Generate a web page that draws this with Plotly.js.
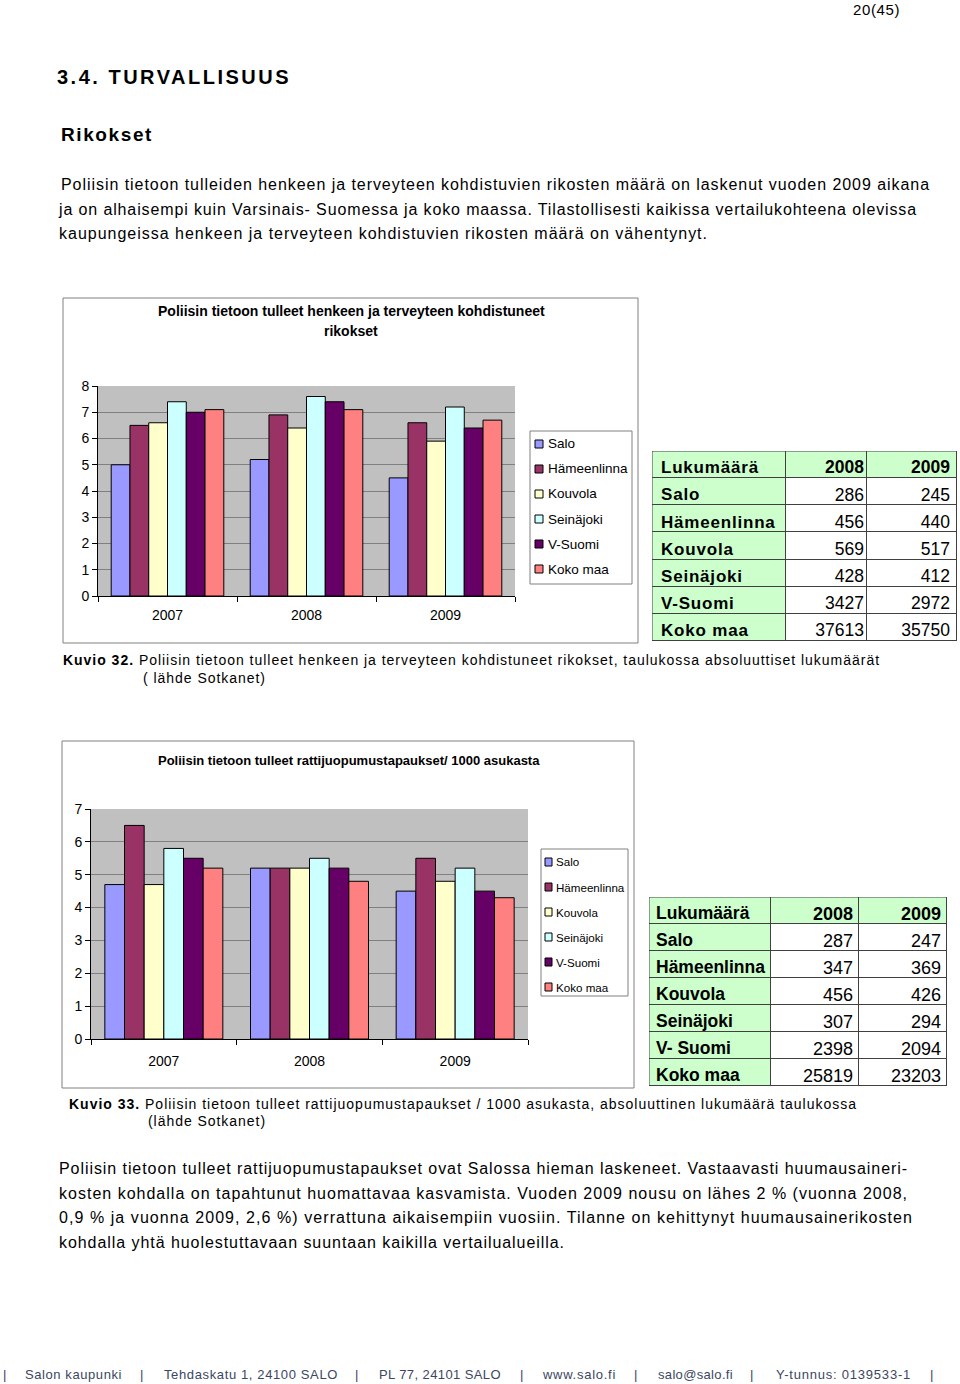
<!DOCTYPE html>
<html>
<head>
<meta charset="utf-8">
<script src="https://cdn.plot.ly/plotly-3.0.1.min.js"></script>
<style>
  body { margin: 0; background: #fff; }
  #page { position: relative; width: 960px; height: 1384px; overflow: hidden; }
  #chart { position: absolute; left: 0; top: 0; width: 960px; height: 1384px; }
  .t { position: absolute; white-space: pre; line-height: 1; transform: translateY(-50%);
       font-family: "Liberation Sans", Arial, sans-serif; color: #000; z-index: 2; }
  .b { font-weight: bold; }
  .foot { color: #3b4662; font-size: 13px; }
  /* ensimmäisen taulukon rivinimet ovat harvennettuja */
  #chart .x3y3 .scatterlayer .trace:first-child text { letter-spacing: 0.8px; }
</style>
</head>
<body>
<div id="page">
  <div id="chart"></div>

  <div class="t" style="left:853px;top:9px;font-size:15px" data-r="900">20(45)</div>
  <div class="t b" style="left:57px;top:77px;font-size:20px" data-r="291">3.4. TURVALLISUUS</div>
  <div class="t b" style="left:61px;top:134px;font-size:19px" data-r="153">Rikokset</div>

  <div class="t" style="left:61px;top:185px;font-size:16px" data-r="930">Poliisin tietoon tulleiden henkeen ja terveyteen kohdistuvien rikosten määrä on laskenut vuoden 2009 aikana</div>
  <div class="t" style="left:59px;top:210px;font-size:16px" data-r="917">ja on alhaisempi kuin Varsinais- Suomessa ja koko maassa. Tilastollisesti kaikissa vertailukohteena olevissa</div>
  <div class="t" style="left:59px;top:234px;font-size:16px" data-r="708">kaupungeissa henkeen ja terveyteen kohdistuvien rikosten määrä on vähentynyt.</div>

  <div class="t" style="left:63px;top:660px;font-size:14px" data-r="880"><b>Kuvio 32.</b> Poliisin tietoon tulleet henkeen ja terveyteen kohdistuneet rikokset, taulukossa absoluuttiset lukumäärät</div>
  <div class="t" style="left:143px;top:678px;font-size:14px" data-r="266">( lähde Sotkanet)</div>

  <div class="t" style="left:69px;top:1104px;font-size:14px" data-r="857"><b>Kuvio 33.</b> Poliisin tietoon tulleet rattijuopumustapaukset / 1000 asukasta, absoluuttinen lukumäärä taulukossa</div>
  <div class="t" style="left:148px;top:1121px;font-size:14px" data-r="266">(lähde Sotkanet)</div>

  <div class="t" style="left:59px;top:1169px;font-size:16px" data-r="908">Poliisin tietoon tulleet rattijuopumustapaukset ovat Salossa hieman laskeneet. Vastaavasti huumausaineri-</div>
  <div class="t" style="left:59px;top:1194px;font-size:16px" data-r="908">kosten kohdalla on tapahtunut huomattavaa kasvamista. Vuoden 2009 nousu on lähes 2 % (vuonna 2008,</div>
  <div class="t" style="left:59px;top:1218px;font-size:16px" data-r="913">0,9 % ja vuonna 2009, 2,6 %) verrattuna aikaisempiin vuosiin. Tilanne on kehittynyt huumausainerikosten</div>
  <div class="t" style="left:59px;top:1243px;font-size:16px" data-r="565">kohdalla yhtä huolestuttavaan suuntaan kaikilla vertailualueilla.</div>

  <div class="t foot" style="left:3px;top:1374px">|</div>
  <div class="t foot" style="left:25px;top:1374px" data-r="122">Salon kaupunki</div>
  <div class="t foot" style="left:140px;top:1374px">|</div>
  <div class="t foot" style="left:164px;top:1374px" data-r="338">Tehdaskatu 1, 24100 SALO</div>
  <div class="t foot" style="left:355px;top:1374px">|</div>
  <div class="t foot" style="left:379px;top:1374px" data-r="501">PL 77, 24101 SALO</div>
  <div class="t foot" style="left:520px;top:1374px">|</div>
  <div class="t foot" style="left:543px;top:1374px" data-r="616">www.salo.fi</div>
  <div class="t foot" style="left:634px;top:1374px">|</div>
  <div class="t foot" style="left:658px;top:1374px" data-r="733">salo@salo.fi</div>
  <div class="t foot" style="left:750px;top:1374px">|</div>
  <div class="t foot" style="left:776px;top:1374px" data-r="911">Y-tunnus: 0139533-1</div>
  <div class="t foot" style="left:930px;top:1374px">|</div>
</div>

<script>
const years = ['2007', '2008', '2009'];
const areas = ['Salo', 'Hämeenlinna', 'Kouvola', 'Seinäjoki', 'V-Suomi', 'Koko maa'];
const areaColors = ['#9999ff', '#993366', '#ffffcc', '#ccffff', '#660066', '#ff8080'];

// Kuvio 32: henkeen ja terveyteen kohdistuneet rikokset
const crimeSalo = [5.0, 5.2, 4.5];
const crimeHameenlinna = [6.5, 6.9, 6.6];
const crimeKouvola = [6.6, 6.4, 5.9];
const crimeSeinajoki = [7.4, 7.6, 7.2];
const crimeVSuomi = [7.0, 7.4, 6.4];
const crimeKokoMaa = [7.1, 7.1, 6.7];

// Kuvio 33: rattijuopumustapaukset / 1000 asukasta
const duiSalo = [4.7, 5.2, 4.5];
const duiHameenlinna = [6.5, 5.2, 5.5];
const duiKouvola = [4.7, 5.2, 4.8];
const duiSeinajoki = [5.8, 5.5, 5.2];
const duiVSuomi = [5.5, 5.2, 4.5];
const duiKokoMaa = [5.2, 4.8, 4.3];

// taulukot
const tableHead = ['Lukumäärä', '2008', '2009'];
const crimeRows = ['Salo', 'Hämeenlinna', 'Kouvola', 'Seinäjoki', 'V-Suomi', 'Koko maa'];
const crimeCount2008 = [286, 456, 569, 428, 3427, 37613];
const crimeCount2009 = [245, 440, 517, 412, 2972, 35750];
const duiRows = ['Salo', 'Hämeenlinna', 'Kouvola', 'Seinäjoki', 'V- Suomi', 'Koko maa'];
const duiCount2008 = [287, 347, 456, 307, 2398, 25819];
const duiCount2009 = [247, 369, 426, 294, 2094, 23203];

const crimeSeries = [crimeSalo, crimeHameenlinna, crimeKouvola, crimeSeinajoki, crimeVSuomi, crimeKokoMaa];
const duiSeries = [duiSalo, duiHameenlinna, duiKouvola, duiSeinajoki, duiVSuomi, duiKokoMaa];

const W = 960, H = 1384;
const px = x => x / W;
const py = y => 1 - y / H;
const FONT = '"Liberation Sans", Arial, sans-serif';
const bold = s => '<b>' + s + '</b>';

var data = [];
var shapes = [];
var annotations = [];

crimeSeries.forEach(function (vals, i) {
    data.push({
        type: 'bar', x: years, y: vals, name: areas[i], xaxis: 'x', yaxis: 'y',
        marker: { color: areaColors[i], line: { color: '#000', width: 1 } },
        showlegend: false, hoverinfo: 'none'
    });
});
duiSeries.forEach(function (vals, i) {
    data.push({
        type: 'bar', x: years, y: vals, name: areas[i], xaxis: 'x2', yaxis: 'y2',
        marker: { color: areaColors[i], line: { color: '#000', width: 1 } },
        showlegend: false, hoverinfo: 'none'
    });
});

// taulukko piirretään omille piilotetuille akseleilleen: heatmap solujen taustoiksi, teksti scatterilla
function addTable(rows, c2008, c2009, xa, ya, colW, rowH, opt) {
    var edgesX = [0, colW[0], colW[0] + colW[1], colW[0] + colW[1] + colW[2]];
    var nRows = rows.length + 1;
    var edgesY = [];
    for (var r = 0; r <= nRows; r++) edgesY.push(r * rowH);
    var textY = edgesY.slice(0, -1).map(function (v) { return v + rowH / 2 + opt.textDrop; });

    var z = [[1, 1, 1]].concat(rows.map(function () { return [1, 0, 0]; }));
    data.push({
        type: 'heatmap', x: edgesX, y: edgesY, z: z, xaxis: xa, yaxis: ya,
        colorscale: [[0, '#ffffff'], [1, '#ccffcc']], zmin: 0, zmax: 1,
        showscale: false, xgap: 1, ygap: 1, hoverinfo: 'none'
    });

    data.push({
        type: 'scatter', mode: 'text', xaxis: xa, yaxis: ya, hoverinfo: 'none', showlegend: false,
        x: textY.map(function () { return opt.labelPad; }), y: textY,
        text: [tableHead[0]].concat(rows).map(bold), textposition: 'middle right',
        textfont: { family: FONT, size: opt.labelSize, color: '#000' }
    });
    [[tableHead[1], c2008, edgesX[2] - opt.numPad[0]], [tableHead[2], c2009, edgesX[3] - opt.numPad[1]]].forEach(function (col) {
        data.push({
            type: 'scatter', mode: 'text', xaxis: xa, yaxis: ya, hoverinfo: 'none', showlegend: false,
            x: textY.map(function () { return col[2]; }), y: textY,
            text: [bold(col[0])].concat(col[1].map(String)), textposition: 'middle left',
            textfont: { family: FONT, size: opt.numSize, color: '#000' }
        });
    });

    // viivat: tumma pohja näkyy solujen väleistä
    shapes.push({ type: 'rect', xref: xa, yref: ya, layer: 'below', x0: 0, x1: edgesX[3], y0: 0, y1: edgesY[nRows],
        fillcolor: '#404040', line: { width: 0 } });
    shapes.push({ type: 'rect', xref: xa, yref: ya, layer: 'above', x0: 0, x1: edgesX[3], y0: 0, y1: edgesY[nRows],
        line: { color: '#404040', width: 1 } });
    return { w: edgesX[3], h: edgesY[nRows] };
}

var t1 = addTable(crimeRows, crimeCount2008, crimeCount2009, 'x3', 'y3', [134, 81, 90], 190 / 7,
    { labelPad: 9, numPad: [3, 7], labelSize: 17, numSize: 17.5, textDrop: 4.5 });
var t2 = addTable(duiRows, duiCount2008, duiCount2009, 'x4', 'y4', [122, 88, 88], 27,
    { labelPad: 7, numPad: [6, 6], labelSize: 17.5, numSize: 18, textDrop: 4.5 });

shapes.push(
    { type: 'rect', xref: 'paper', yref: 'paper', x0: px(63), x1: px(638), y0: py(643), y1: py(298), line: { color: '#808080', width: 1 } },
    { type: 'rect', xref: 'paper', yref: 'paper', x0: px(62), x1: px(634), y0: py(1088), y1: py(741), line: { color: '#808080', width: 1 } },
    { type: 'rect', xref: 'paper', yref: 'paper', x0: px(530), x1: px(632), y0: py(584), y1: py(431), line: { color: '#808080', width: 1 } },
    { type: 'rect', xref: 'paper', yref: 'paper', x0: px(541), x1: px(628), y0: py(996), y1: py(849), line: { color: '#808080', width: 1 } }
);

[
    { text: bold('Poliisin tietoon tulleet henkeen ja terveyteen kohdistuneet'), x: px(351), y: py(311) },
    { text: bold('rikokset'), x: px(351), y: py(331) },
    { text: bold('Poliisin tietoon tulleet rattijuopumustapaukset/ 1000 asukasta'), x: px(349), y: py(760), font: { family: FONT, size: 13, color: '#000' } }
].forEach(function (a) {
    annotations.push(Object.assign({ xref: 'paper', yref: 'paper', showarrow: false, xanchor: 'center', yanchor: 'middle',
        font: { family: FONT, size: 14, color: '#000' } }, a));
});

// selitteet
areas.forEach(function (name, i) {
    var y1 = 444 + 25 * i;
    shapes.push({ type: 'rect', xref: 'paper', yref: 'paper', x0: px(535), x1: px(543), y0: py(y1 + 4), y1: py(y1 - 4),
        fillcolor: areaColors[i], line: { color: '#000', width: 1 } });
    annotations.push({ xref: 'paper', yref: 'paper', showarrow: false, xanchor: 'left', yanchor: 'middle',
        x: px(546), y: py(y1), text: name, font: { family: FONT, size: 13.5, color: '#000' } });

    var y2 = 862 + 25 * i;
    shapes.push({ type: 'rect', xref: 'paper', yref: 'paper', x0: px(545), x1: px(552), y0: py(y2 + 4), y1: py(y2 - 4),
        fillcolor: areaColors[i], line: { color: '#000', width: 1 } });
    annotations.push({ xref: 'paper', yref: 'paper', showarrow: false, xanchor: 'left', yanchor: 'middle',
        x: px(554), y: py(y2), text: name, font: { family: FONT, size: 11.6, color: '#000' } });
});

function xAxis(domain, anchor, standoff) {
    return {
        domain: domain, anchor: anchor, type: 'category', showgrid: false, zeroline: false,
        showline: true, linecolor: '#000', linewidth: 1,
        ticks: 'outside', tickson: 'boundaries', ticklen: 5, tickcolor: '#000',
        ticklabelstandoff: standoff, tickfont: { family: FONT, size: 14, color: '#000' }, fixedrange: true
    };
}
function yAxis(domain, anchor, max) {
    return {
        domain: domain, anchor: anchor, range: [0, max], dtick: 1, showgrid: true, gridcolor: '#808080', gridwidth: 1,
        zeroline: false, showline: true, linecolor: '#000', linewidth: 1,
        ticks: 'outside', ticklen: 5, tickcolor: '#000',
        tickfont: { family: FONT, size: 14, color: '#000' }, fixedrange: true
    };
}
function hiddenAxis(domain, anchor, range) {
    return { domain: domain, anchor: anchor, range: range, visible: false, showgrid: false, zeroline: false, fixedrange: true };
}

var layout = {
    width: W, height: H,
    margin: { l: 0, r: 0, t: 0, b: 0 },
    paper_bgcolor: 'rgba(0,0,0,0)',
    plot_bgcolor: '#c0c0c0',
    barmode: 'group', bargap: 0.19, bargroupgap: 0,
    xaxis: xAxis([px(98), px(515)], 'y', 6),
    yaxis: yAxis([py(596), py(386)], 'x', 8),
    xaxis2: xAxis([px(91), px(528)], 'y2', 9),
    yaxis2: yAxis([py(1039), py(809)], 'x2', 7),
    xaxis3: hiddenAxis([px(652), px(652 + t1.w)], 'y3', [0, t1.w]),
    yaxis3: hiddenAxis([py(451 + t1.h), py(451)], 'x3', [t1.h, 0]),
    xaxis4: hiddenAxis([px(649), px(649 + t2.w)], 'y4', [0, t2.w]),
    yaxis4: hiddenAxis([py(897 + t2.h), py(897)], 'x4', [t2.h, 0]),
    shapes: shapes,
    annotations: annotations
};

Plotly.newPlot('chart', data, layout, { staticPlot: true, displayModeBar: false });

// sovita tekstirivit alkuperäisiin leveyksiin
function fitTexts() {
    document.querySelectorAll('.t[data-r]').forEach(function (el) {
        el.style.letterSpacing = '0px';
        var left = parseFloat(el.style.left);
        var target = parseFloat(el.dataset.r) - left;
        var natural = el.getBoundingClientRect().width;
        var n = el.textContent.length;
        el.style.letterSpacing = ((target - natural) / n) + 'px';
    });
}
if (document.fonts && document.fonts.ready) {
    document.fonts.ready.then(fitTexts);
} else {
    fitTexts();
}
</script>
</body>
</html>
